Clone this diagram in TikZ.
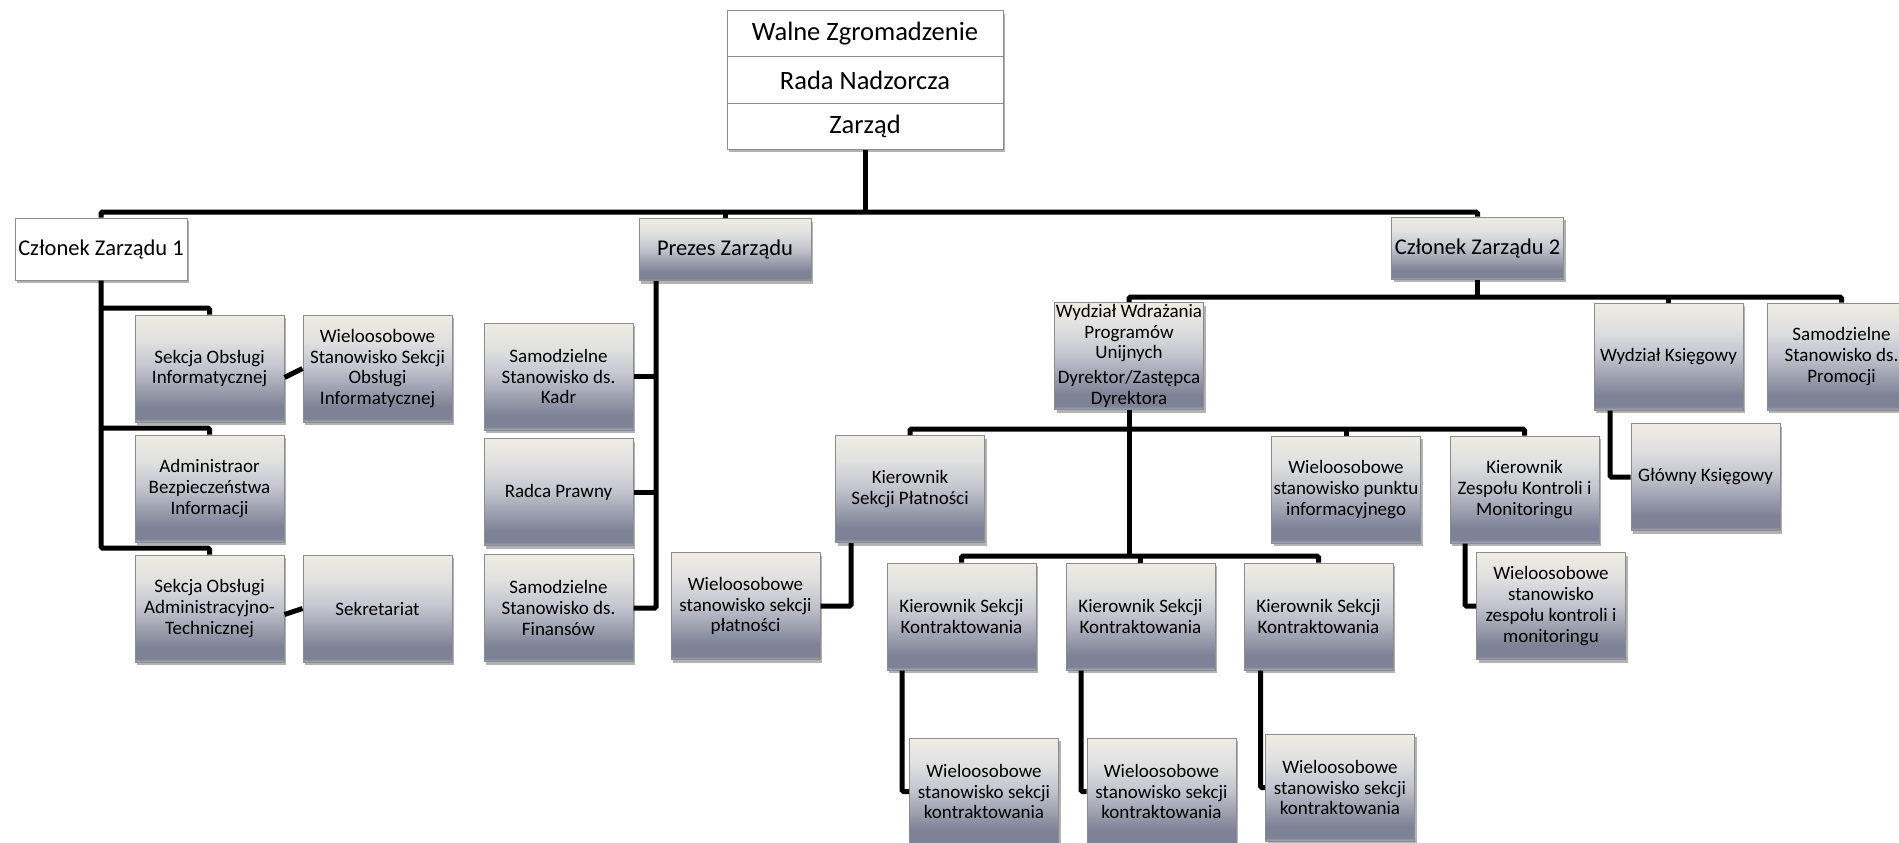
\documentclass[tikz,border=0pt]{standalone}
\usepackage{fontspec}
\setmainfont{Carlito}
\usetikzlibrary{shadows}
\definecolor{gT}{RGB}{238,236,226}
\definecolor{gL}{RGB}{224,224,224}
\definecolor{gM}{RGB}{196,198,207}
\definecolor{gD}{RGB}{125,130,150}
\definecolor{gB}{RGB}{168,171,184}
\definecolor{boxedge}{RGB}{140,140,140}
\pgfdeclareverticalshading{boxgrad}{100bp}{color(0bp)=(gB); color(25bp)=(gB); color(26.5bp)=(gD); color(32bp)=(gD); color(51bp)=(gM); color(63bp)=(gL); color(75bp)=(gT); color(100bp)=(gT)}
\tikzset{
  conn/.style={line width=5pt, rounded corners=1.5pt},
  myshadow/.style={drop shadow={shadow xshift=2pt, shadow yshift=-3pt, opacity=0.3, fill=black}},
  gbox/.style={draw=boxedge, line width=1pt, shading=boxgrad, minimum width=149pt, minimum height=107pt,
    inner sep=0pt, align=center, font=\fontsize{19}{20.8}\selectfont, myshadow},
  mbox/.style={gbox, minimum width=172pt, minimum height=62pt, font=\fontsize{22.5}{26}\selectfont},
  wbox/.style={draw=boxedge, line width=1pt, fill=white, minimum width=172pt, minimum height=62pt,
    inner sep=0pt, align=center, font=\fontsize{22.5}{26}\selectfont, myshadow},
  tbox/.style={draw=boxedge, line width=1pt, fill=white, minimum width=276pt, minimum height=46pt,
    inner sep=0pt, font=\fontsize{26.5}{30}\selectfont, myshadow}
}
\begin{document}
\begin{tikzpicture}[x=1pt, y=-1pt]
\useasboundingbox (0,0) rectangle (1899,843);
\clip (0,0) rectangle (1899,843);
% top stack
\node[tbox] (walne) at (865,34) {Walne Zgromadzenie};
\node[tbox] (rada) at (865,80) {Rada Nadzorcza};
\node[tbox] (zarzad) at (865,126) {Zarząd};
% level 1
\node[wbox] (czl1) at (101,249) {Członek Zarządu 1};
\node[mbox] (prezes) at (725,249.5) {Prezes Zarządu};
\node[mbox] (czl2) at (1477.5,248) {Członek Zarządu 2};
% left column
\node[gbox] (soi) at (209.5,368.5) {Sekcja Obsługi\\Informatycznej};
\node[gbox] (wsoi) at (377.5,368.5) {Wieloosobowe\\Stanowisko Sekcji\\Obsługi\\Informatycznej};
\node[gbox] (abi) at (209.5,488.5) {Administraor\\Bezpieczeństwa\\Informacji};
\node[gbox] (soat) at (209.5,608.5) {Sekcja Obsługi\\Administracyjno-\\Technicznej};
\node[gbox] (sekr) at (377.5,608.5) {Sekretariat};
% prezes column
\node[gbox] (kadr) at (558.5,376.5) {Samodzielne\\Stanowisko ds.\\Kadr};
\node[gbox] (radca) at (558.5,492) {Radca Prawny};
\node[gbox] (fin) at (558.5,608) {Samodzielne\\Stanowisko ds.\\Finansów};
% czlonek 2
\node[gbox, font=\fontsize{19}{20.3}\selectfont] (wdr) at (1129,356) {Wydział Wdrażania\\Programów\\Unijnych\\[5pt]Dyrektor/Zastępca\\Dyrektora};
\node[gbox] (wks) at (1668.5,356.5) {Wydział Księgowy};
\node[gbox] (prom) at (1841.5,356.5) {Samodzielne\\Stanowisko ds.\\Promocji};
\node[gbox] (glk) at (1705.5,477) {Główny Księgowy};
\node[gbox] (kpl) at (910,489) {Kierownik\\Sekcji Płatności};
\node[gbox] (wpi) at (1346,489.5) {Wieloosobowe\\stanowisko punktu\\informacyjnego};
\node[gbox] (kzk) at (1524.5,489.5) {Kierownik\\Zespołu Kontroli i\\Monitoringu};
\node[gbox] (wsp) at (745.5,606) {Wieloosobowe\\stanowisko sekcji\\płatności};
\node[gbox] (wzk) at (1551,606) {Wieloosobowe\\stanowisko\\zespołu kontroli i\\monitoringu};
\node[gbox] (kk1) at (961.5,616.5) {Kierownik Sekcji\\Kontraktowania};
\node[gbox] (kk2) at (1140.5,616.5) {Kierownik Sekcji\\Kontraktowania};
\node[gbox] (kk3) at (1318.5,616.5) {Kierownik Sekcji\\Kontraktowania};
\node[gbox] (wk1) at (984,791.5) {Wieloosobowe\\stanowisko sekcji\\kontraktowania};
\node[gbox] (wk2) at (1161.5,791.5) {Wieloosobowe\\stanowisko sekcji\\kontraktowania};
\node[gbox] (wk3) at (1340,787.5) {Wieloosobowe\\stanowisko sekcji\\kontraktowania};
% connectors
\coordinate (bus1) at (865,212);
\draw[conn] (zarzad.south) -- (bus1);
\draw[conn] (czl1.north) -- (czl1.north |- bus1) -- (czl2.north |- bus1) -- (czl2.north);
\draw[conn] (prezes.north |- bus1) -- (prezes.north);
\coordinate (l1) at (0,308);
\coordinate (l2) at (0,428);
\coordinate (l3) at (0,548);
\draw[conn] (czl1.south) -- (czl1.south |- l3) -| (soat.north);
\draw[conn] (czl1.south |- l1) -| (soi.north);
\draw[conn] (czl1.south |- l2) -| (abi.north);
\draw[conn] ([yshift=-9pt]soi.east) -- (wsoi.west);
\draw[conn] ([yshift=-6pt]soat.east) -- (sekr.west);
\coordinate (pv) at ([xshift=-69pt]prezes.south);
\draw[conn] (pv) |- (fin.east);
\draw[conn] (kadr.east) -- (kadr.east -| pv);
\draw[conn] (radca.east) -- (radca.east -| pv);
\coordinate (bus2) at (0,297);
\draw[conn] (czl2.south) -- (czl2.south |- bus2);
\draw[conn] (wdr.north) -- (wdr.north |- bus2) -- (prom.north |- bus2) -- (prom.north);
\draw[conn] (wks.north |- bus2) -- (wks.north);
\draw[conn] ([xshift=-58.5pt]wks.south) |- (glk.west);
\coordinate (bus3) at (0,429);
\coordinate (bus4) at (0,556);
\draw[conn] (wdr.south) -- (wdr.south |- bus4);
\draw[conn] (kpl.north) -- (kpl.north |- bus3) -- (kzk.north |- bus3) -- (kzk.north);
\draw[conn] (wpi.north |- bus3) -- (wpi.north);
\draw[conn] ([xshift=-59pt]kpl.south) |- (wsp.east);
\draw[conn] ([xshift=-59.5pt]kzk.south) |- (wzk.west);
\draw[conn] (kk1.north) -- (kk1.north |- bus4) -- (kk3.north |- bus4) -- (kk3.north);
\draw[conn] (kk2.north |- bus4) -- (kk2.north);
\draw[conn] ([xshift=-59.5pt]kk1.south) |- (wk1.west);
\draw[conn] ([xshift=-59.5pt]kk2.south) |- (wk2.west);
\draw[conn] ([xshift=-58pt]kk3.south) |- (wk3.west);
\end{tikzpicture}
\end{document}
